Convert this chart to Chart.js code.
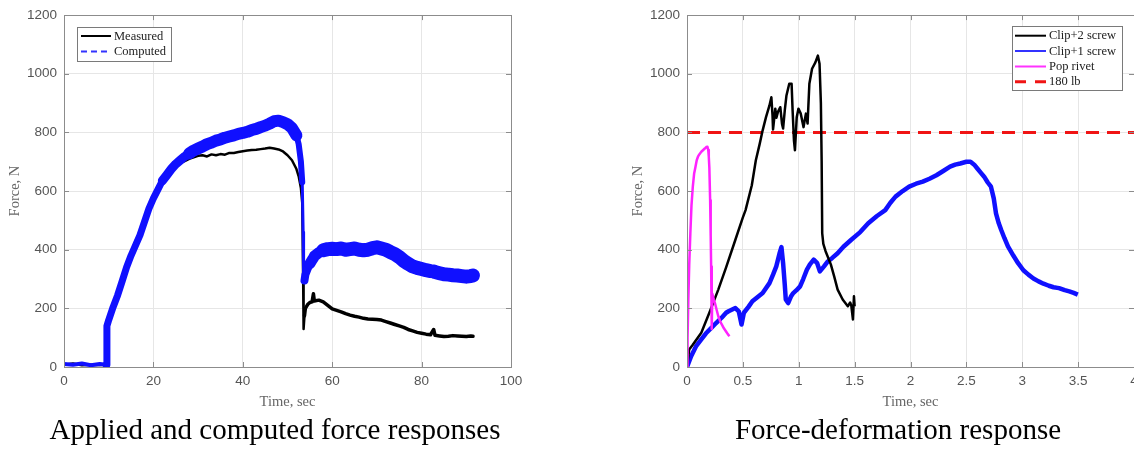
<!DOCTYPE html>
<html>
<head>
<meta charset="utf-8">
<title>Force responses</title>
<script src="https://cdn.jsdelivr.net/npm/chart.js@4.4.1/dist/chart.umd.min.js"></script>
<style>
html,body{margin:0;padding:0;background:#fff;overflow:hidden;width:1134px;height:449px;}
#left{position:absolute;left:0;top:0;}
#right{position:absolute;left:600px;top:0;}
.cap{position:absolute;top:415px;font:29px 'Liberation Serif','Times New Roman',serif;line-height:29px;color:#000;white-space:nowrap;transform:translateX(-50%);}
</style>
</head>
<body>
<canvas id="left" width="560" height="420"></canvas>
<canvas id="right" width="560" height="420"></canvas>
<div class="cap" style="left:275px">Applied and computed force responses</div>
<div class="cap" style="left:898px">Force-deformation response</div>
<script>
// ---- left panel: applied (measured) vs computed force, N over time, sec
const timeL = [0,2,4,6,8,9.4,9.6,10,11,12,13,14,15,16,17,18,19,20,21,22,23,24,25,26,27,28,29,30,
  31,32,33,34,35,36,37,38,39,40,41,42,43,44,45,46,47,48,49,50,51,52,52.5,53,53.3,53.5,53.6,53.8,
  54,54.5,55,55.5,55.8,56,57,58,59,60,61,62,63,64,65,66,67,68,69,70,71,72,73,74,75,76,77,78,79,80,
  81,82,82.7,83,84,85,86,87,88,89,90,91,91.5];
const measured = [8,12,6,8,7,8,130,150,196,240,290,343,385,430,455,505,550,580,600,628,649,668,683,695,702,710,715,720,
  722,718,725,722,726,724,730,730,733,736,738,740,741,743,745,748,745,742,735,722,705,675,650,610,560,300,130,175,
  200,213,220,222,250,225,228,222,210,198,193,188,182,177,173,170,166,164,163,162,160,155,150,145,140,135,128,123,118,115,
  112,110,128,108,106,104,105,107,106,105,104,106,105];
const computed = [10,8,12,6,10,8,140,160,205,245,292,340,380,415,450,495,540,575,605,635,655,675,692,705,718,728,738,745,
  752,760,765,772,776,782,786,790,795,798,802,808,812,818,823,830,838,840,835,828,815,790,760,700,630,460,300,295,
  315,335,352,365,372,378,390,398,402,403,402,404,400,402,404,400,398,400,405,408,404,400,392,385,375,362,352,343,338,334,
  330,327,326,324,320,316,315,313,312,310,308,310,312];

// ---- right panel: force-deformation tests
const clip2T = [0,0.02,0.05,0.128,0.2,0.28,0.35,0.433,0.5,0.524,0.58,0.616,0.65,0.677,0.707,0.738,0.755,0.765,0.77,0.79,
  0.8,0.814,0.835,0.85,0.86,0.875,0.89,0.915,0.936,0.945,0.957,0.966,0.982,0.997,1.018,1.043,1.064,1.079,1.095,1.119,
  1.149,1.171,1.186,1.198,1.205,1.21,1.22,1.24,1.287,1.317,1.348,1.393,1.439,1.46,1.47,1.485,1.494,1.5];
const clip2F = [0,60,75,117,185,264,340,434,510,535,620,705,760,807,852,892,920,860,810,881,
  850,870,886,830,813,875,926,966,966,875,773,739,852,881,864,818,864,830,966,1017,
  1039,1062,1034,900,700,456,420,395,350,309,264,230,207,220,210,162,241,207];

const clip1T = [0,0.037,0.08,0.128,0.17,0.22,0.26,0.31,0.35,0.372,0.4,0.433,0.463,0.488,0.509,0.55,0.585,0.63,0.677,0.738,
  0.77,0.799,0.83,0.845,0.86,0.875,0.884,0.905,0.93,0.951,0.98,1.012,1.04,1.073,1.1,1.134,1.165,1.189,1.226,1.26,
  1.3,1.348,1.4,1.47,1.55,1.622,1.7,1.774,1.82,1.866,1.93,1.988,2.05,2.11,2.17,2.232,2.3,2.354,2.4,2.445,
  2.5,2.537,2.57,2.598,2.63,2.659,2.69,2.72,2.745,2.765,2.79,2.811,2.84,2.872,2.92,2.963,3.01,3.055,3.1,3.146,
  3.19,3.238,3.28,3.329,3.38,3.421,3.46,3.497];
const clip1F = [0,37,70,94,115,134,150,168,185,190,195,201,190,145,185,205,224,238,252,286,
  315,343,390,409,354,280,230,218,240,252,262,275,300,332,350,366,354,326,343,360,
  372,388,410,434,460,490,515,535,560,581,600,615,625,632,642,654,670,683,690,694,
  700,700,690,677,662,649,630,615,575,524,490,468,440,411,380,354,330,315,302,292,
  284,277,272,269,262,258,253,247];

const rivetT = [0,0.005,0.012,0.02,0.03,0.04,0.052,0.064,0.076,0.087,0.098,0.11,0.128,0.145,0.159,0.172,0.183,0.19,0.195,0.2,
  0.207,0.212,0.216,0.22,0.223,0.226,0.24,0.25,0.265,0.28,0.295,0.311,0.33,0.348,0.365,0.38];
const rivetF = [0,100,230,350,456,550,615,660,683,705,717,725,734,740,745,750,751,740,717,680,
  569,450,343,200,130,250,230,218,195,173,158,145,132,122,112,105];

const limitT = [0, 4];
const limitF = [800, 800]; // 180 lb

const forceTicks = [0,200,400,600,800,1000,1200];
const timeTicksL = [0,20,40,60,80,100];
const timeTicksR = [0,0.5,1,1.5,2,2.5,3,3.5,4];

function pts(xs, ys){ return xs.map((x,i)=>({x:x, y:ys[i]})); }

// matlab style box, inward ticks and legend drawn inside the axes
const boxPlugin = {
  id: 'matlabBox',
  afterDraw(chart, args, opts){
    const {ctx, chartArea:a, scales} = chart;
    ctx.save();
    ctx.strokeStyle = '#8c8c8c';
    ctx.lineWidth = 1;
    ctx.strokeRect(Math.round(a.left)+0.5, Math.round(a.top)+0.5, Math.round(a.right-a.left), Math.round(a.bottom-a.top));
    ctx.beginPath();
    scales.x.ticks.forEach(t=>{
      const px = Math.round(scales.x.getPixelForValue(t.value))+0.5;
      ctx.moveTo(px, a.bottom); ctx.lineTo(px, a.bottom-5);
      ctx.moveTo(px, a.top); ctx.lineTo(px, a.top+5);
    });
    scales.y.ticks.forEach(t=>{
      const py = Math.round(scales.y.getPixelForValue(t.value))+0.5;
      ctx.moveTo(a.left, py); ctx.lineTo(a.left+5, py);
      ctx.moveTo(a.right, py); ctx.lineTo(a.right-5, py);
    });
    ctx.stroke();

    const lg = opts.legend;
    ctx.fillStyle = '#fff';
    ctx.fillRect(lg.x, lg.y, lg.w, lg.h);
    ctx.strokeStyle = '#7a7a7a';
    ctx.strokeRect(lg.x+0.5, lg.y+0.5, lg.w, lg.h);
    ctx.font = "12.5px 'Liberation Serif', 'Times New Roman', serif";
    ctx.textBaseline = 'middle';
    lg.items.forEach((it, i)=>{
      const y = lg.rows[i];
      ctx.beginPath();
      ctx.strokeStyle = it.color;
      ctx.lineWidth = it.width;
      ctx.setLineDash(it.dash || []);
      ctx.moveTo(lg.lineX0, y); ctx.lineTo(lg.lineX1, y);
      ctx.stroke();
      ctx.setLineDash([]);
      ctx.fillStyle = '#222';
      ctx.fillText(it.label, lg.textX, y+0.5);
    });
    ctx.restore();
  }
};

function axisOpts(tickVals, min, max, isX, fixed, titleText, titlePad){
  return {
    type: 'linear', min: min, max: max,
    afterBuildTicks: s => { s.ticks = tickVals.map(v=>({value:v})); },
    afterFit: s => { if(isX) s.height = fixed; else s.width = fixed; },
    grid: { color: '#e6e6e6', lineWidth: 1, drawTicks: false },
    border: { display: false },
    ticks: {
      color: '#555', padding: isX ? 6 : 7,
      font: { family: "'Liberation Sans', Arial, sans-serif", size: 13.5 },
      callback: v => String(v), maxRotation: 0, autoSkip: false
    },
    title: {
      display: true, text: titleText, color: '#666',
      font: { family: "'Liberation Serif', 'Times New Roman', serif", size: 14.5 },
      padding: titlePad
    }
  };
}

// band thickness of the noisy computed trace, by time
function computedWidth(c){
  const x = c.p0.parsed.x;
  if (x < 9.3) return 4;
  if (x < 22) return 7;
  if (x < 28) return 9;
  if (x < 52) return 12;
  if (x < 53.3) return 6;
  if (x < 53.7) return 3;
  if (x < 55) return 8;
  if (x < 58) return 11;
  return 14;
}

// left chart
new Chart(document.getElementById('left').getContext('2d'), {
  type: 'line',
  data: {
    datasets: [
      { label: 'Measured', data: pts(timeL, measured), borderColor: '#000', borderWidth: 2.5,
        order: 1,
        segment: { borderWidth: c => (c.p0.parsed.x > 53.7 ? 3.5 : 2.5) } },
      { label: 'Computed', data: pts(timeL, computed), borderColor: '#1010ff', borderWidth: 5,
        order: 0,
        segment: { borderWidth: computedWidth } }
    ]
  },
  options: {
    responsive: false, animation: false, devicePixelRatio: 1,
    elements: { point: { radius: 0 }, line: { tension: 0, borderJoinStyle: 'round', borderCapStyle: 'round' } },
    layout: { padding: { left: 0, top: 14, right: 49, bottom: 0 } },
    scales: {
      x: axisOpts(timeTicksL, 0, 100, true, 53, 'Time, sec', { top: 0, bottom: 9 }),
      y: axisOpts(forceTicks, 0, 1200, false, 64, 'Force, N', { top: 6, bottom: 0 })
    },
    plugins: {
      legend: { display: false }, tooltip: { enabled: false },
      matlabBox: { legend: {
        x: 77, y: 27, w: 94, h: 34, rows: [36, 51.5], lineX0: 81, lineX1: 111, textX: 114,
        items: [
          { label: 'Measured', color: '#000', width: 2 },
          { label: 'Computed', color: '#3333ff', width: 2, dash: [6, 4] }
        ] } }
    }
  },
  plugins: [boxPlugin]
});

// right chart
new Chart(document.getElementById('right').getContext('2d'), {
  type: 'line',
  data: {
    datasets: [
      { label: 'Clip+2 screw', data: pts(clip2T, clip2F), borderColor: '#000', borderWidth: 2.5, order: 1 },
      { label: 'Clip+1 screw', data: pts(clip1T, clip1F), borderColor: '#1010ff', borderWidth: 4.5, order: 2 },
      { label: 'Pop rivet', data: pts(rivetT, rivetF), borderColor: '#ff22ff', borderWidth: 2.5, order: 0 },
      { label: '180 lb', data: pts(limitT, limitF), borderColor: '#f01414', borderWidth: 3, borderDash: [13, 8], order: 3 }
    ]
  },
  options: {
    responsive: false, animation: false, devicePixelRatio: 1,
    elements: { point: { radius: 0 }, line: { tension: 0, borderJoinStyle: 'round' } },
    layout: { padding: { left: 0, top: 14, right: 26, bottom: 0 } },
    scales: {
      x: axisOpts(timeTicksR, 0, 4, true, 53, 'Time, sec', { top: 0, bottom: 9 }),
      y: axisOpts(forceTicks, 0, 1200, false, 87, 'Force, N', { top: 29, bottom: 0 })
    },
    plugins: {
      legend: { display: false }, tooltip: { enabled: false },
      matlabBox: { legend: {
        x: 412, y: 26, w: 110, h: 64, rows: [35.7, 51, 66.5, 81.7], lineX0: 415, lineX1: 446, textX: 449,
        items: [
          { label: 'Clip+2 screw', color: '#000', width: 2 },
          { label: 'Clip+1 screw', color: '#3333ff', width: 2 },
          { label: 'Pop rivet', color: '#ff33ff', width: 2 },
          { label: '180 lb', color: '#f01414', width: 3, dash: [11, 9] }
        ] } }
    }
  },
  plugins: [boxPlugin]
});
</script>
</body>
</html>
